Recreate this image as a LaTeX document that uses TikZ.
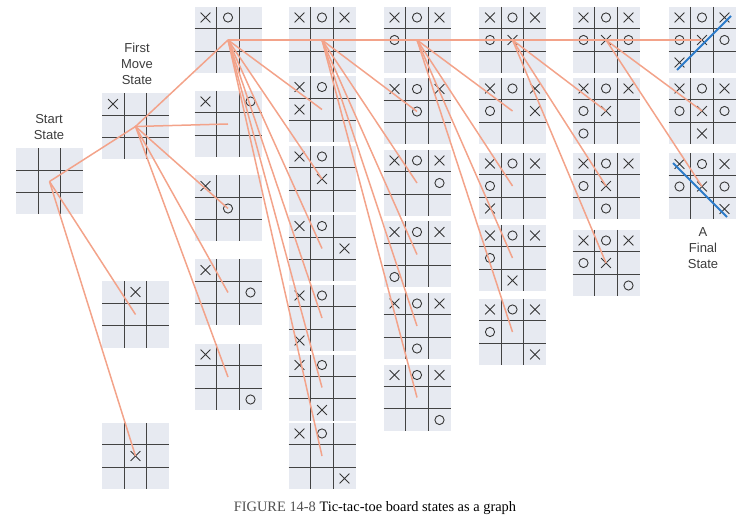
\documentclass[tikz,border=0pt]{standalone}
\usepackage{fontspec}
\setmainfont{Liberation Serif}
\setsansfont{Liberation Sans}
\definecolor{boardfill}{RGB}{231,234,241}
\definecolor{gridc}{RGB}{66,66,66}
\definecolor{markc}{RGB}{55,55,55}
\definecolor{salmon}{RGB}{243,163,138}
\definecolor{winblue}{RGB}{44,123,201}
\definecolor{labelc}{RGB}{60,60,60}
\definecolor{capgray}{RGB}{80,80,80}
\tikzset{
  board/.style={fill=boardfill, draw=none, minimum width=67pt, minimum height=66pt, inner sep=0pt, outer sep=0pt},
  gridl/.style={draw=gridc, line width=1.3pt},
  mk/.style={draw=markc, line width=0.9pt},
  link/.style={draw=salmon, line width=1.5pt},
  win/.style={draw=winblue, line width=2pt},
  lbl/.style={font=\sffamily\fontsize{13}{16}\selectfont, align=center, text=labelc, inner sep=0pt},
  caption/.style={font=\rmfamily\fontsize{14.4}{16}\selectfont, inner sep=0pt}
}
\newcommand\tttboard[3]{%
  \node[board] (#1) at (#2,#3) {};
  \begin{scope}[shift={(#1.center)}]
    \draw[gridl] (-11.2,-33) -- (-11.2,33) (11.2,-33) -- (11.2,33)
                 (-33.5,-11.2) -- (33.5,-11.2) (-33.5,11.2) -- (33.5,11.2);
  \end{scope}}
\newcommand\tttX[2]{\draw[mk] ({#1-4.9},{#2-4.9}) -- ({#1+4.9},{#2+4.9}) ({#1-4.9},{#2+4.9}) -- ({#1+4.9},{#2-4.9});}
\newcommand\tttO[2]{\draw[mk] (#1,#2) circle[radius=4.6pt];}
\newcommand\tttmarks[2]{%
  \begin{scope}[shift={(#1.center)}]
    \foreach \m/\c/\r in {#2}{%
      \pgfmathsetmacro\px{(\c-1)*22.5}%
      \pgfmathsetmacro\py{(\r-1)*22.5}%
      \csname ttt\m\endcsname{\px}{\py}}
  \end{scope}}
\begin{document}
\begin{tikzpicture}[x=1pt,y=-1pt]
\useasboundingbox (0,0) rectangle (749,518);
% column 0
\tttboard{s}{49.5}{181.5}
% column 1
\tttboard{f1}{135.5}{126.5}
\tttboard{f2}{135.5}{314.5}
\tttboard{f3}{135.5}{456}
\tttmarks{f1}{X/0/0}
\tttmarks{f2}{X/1/0}
\tttmarks{f3}{X/1/1}
% column 2
\tttboard{a1}{228}{40}
\tttboard{a2}{228}{124}
\tttboard{a3}{228}{208.5}
\tttboard{a4}{228}{292.5}
\tttboard{a5}{228}{377}
\tttmarks{a1}{X/0/0,O/1/0}
\tttmarks{a2}{X/0/0,O/2/0}
\tttmarks{a3}{X/0/0,O/1/1}
\tttmarks{a4}{X/0/0,O/2/1}
\tttmarks{a5}{X/0/0,O/2/2}
% column 3
\tttboard{b1}{322}{40}
\tttboard{b2}{322}{109.5}
\tttboard{b3}{322}{179}
\tttboard{b4}{322}{248.5}
\tttboard{b5}{322}{318}
\tttboard{b6}{322}{387.5}
\tttboard{b7}{322}{456}
\tttmarks{b1}{X/0/0,O/1/0,X/2/0}
\tttmarks{b2}{X/0/0,O/1/0,X/0/1}
\tttmarks{b3}{X/0/0,O/1/0,X/1/1}
\tttmarks{b4}{X/0/0,O/1/0,X/2/1}
\tttmarks{b5}{X/0/0,O/1/0,X/0/2}
\tttmarks{b6}{X/0/0,O/1/0,X/1/2}
\tttmarks{b7}{X/0/0,O/1/0,X/2/2}
% column 4
\tttboard{c1}{417}{40}
\tttboard{c2}{417}{111.5}
\tttboard{c3}{417}{183}
\tttboard{c4}{417}{254.5}
\tttboard{c5}{417}{326}
\tttboard{c6}{417}{397.5}
\tttmarks{c1}{X/0/0,O/1/0,X/2/0,O/0/1}
\tttmarks{c2}{X/0/0,O/1/0,X/2/0,O/1/1}
\tttmarks{c3}{X/0/0,O/1/0,X/2/0,O/2/1}
\tttmarks{c4}{X/0/0,O/1/0,X/2/0,O/0/2}
\tttmarks{c5}{X/0/0,O/1/0,X/2/0,O/1/2}
\tttmarks{c6}{X/0/0,O/1/0,X/2/0,O/2/2}
% column 5
\tttboard{d1}{512.5}{40}
\tttboard{d2}{512.5}{111}
\tttboard{d3}{512.5}{186}
\tttboard{d4}{512.5}{258}
\tttboard{d5}{512.5}{332}
\tttmarks{d1}{X/0/0,O/1/0,X/2/0,O/0/1,X/1/1}
\tttmarks{d2}{X/0/0,O/1/0,X/2/0,O/0/1,X/2/1}
\tttmarks{d3}{X/0/0,O/1/0,X/2/0,O/0/1,X/0/2}
\tttmarks{d4}{X/0/0,O/1/0,X/2/0,O/0/1,X/1/2}
\tttmarks{d5}{X/0/0,O/1/0,X/2/0,O/0/1,X/2/2}
% column 6
\tttboard{e1}{606}{40}
\tttboard{e2}{606}{111}
\tttboard{e3}{606}{186}
\tttboard{e4}{606}{263}
\tttmarks{e1}{X/0/0,O/1/0,X/2/0,O/0/1,X/1/1,O/2/1}
\tttmarks{e2}{X/0/0,O/1/0,X/2/0,O/0/1,X/1/1,O/0/2}
\tttmarks{e3}{X/0/0,O/1/0,X/2/0,O/0/1,X/1/1,O/1/2}
\tttmarks{e4}{X/0/0,O/1/0,X/2/0,O/0/1,X/1/1,O/2/2}
% column 7
\tttboard{g1}{702}{40}
\tttboard{g2}{702}{111}
\tttboard{g3}{702}{186.5}
\tttmarks{g1}{X/0/0,O/1/0,X/2/0,O/0/1,X/1/1,O/2/1,X/0/2}
\tttmarks{g2}{X/0/0,O/1/0,X/2/0,O/0/1,X/1/1,O/2/1,X/1/2}
\tttmarks{g3}{X/0/0,O/1/0,X/2/0,O/0/1,X/1/1,O/2/1,X/2/2}
% connectors
\foreach \t in {f1,f2,f3} \draw[link] (s.center) -- (\t.center);
\foreach \t in {a1,a2,a3,a4,a5} \draw[link] (f1.center) -- (\t.center);
\foreach \t in {b1,b2,b3,b4,b5,b6,b7} \draw[link] (a1.center) -- (\t.center);
\foreach \t in {c1,c2,c3,c4,c5,c6} \draw[link] (b1.center) -- (\t.center);
\foreach \t in {d1,d2,d3,d4,d5} \draw[link] (c1.center) -- (\t.center);
\foreach \t in {e1,e2,e3,e4} \draw[link] (d1.center) -- (\t.center);
\foreach \t in {g1,g2,g3} \draw[link] (e1.center) -- (\t.center);
% winning lines
\begin{scope}[shift={(g1.center)}]
  \draw[win] (-25,30) -- (29,-24);
\end{scope}
\begin{scope}[shift={(g3.center)}]
  \draw[win] (-29,-23.5) -- (25,30.5);
\end{scope}
% labels
\node[lbl] (ls) at (49,127) {Start\\State};
\node[lbl] (lf) at (137,64) {First\\Move\\State};
\node[lbl] (la) at (703,248) {A\\Final\\State};
\node[caption] (cap) at (375,508) {{\color{capgray}FIGURE 14-8} Tic-tac-toe board states as a graph};
\end{tikzpicture}
\end{document}
